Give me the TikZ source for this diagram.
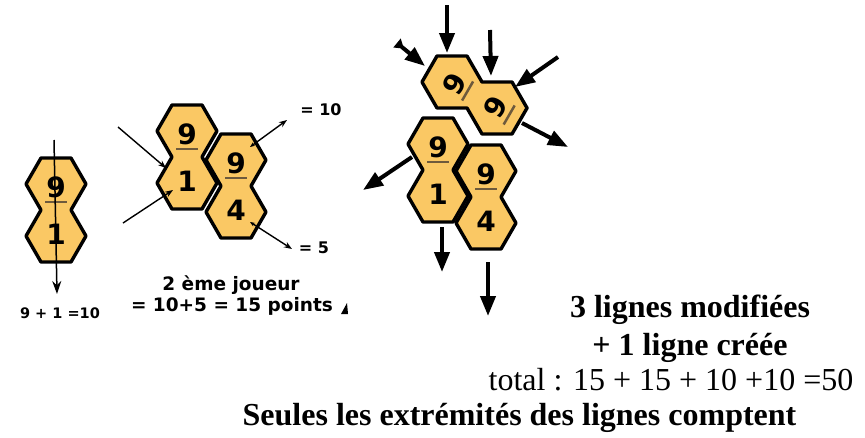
\documentclass[tikz,border=0pt]{standalone}
\usepackage{fontspec}
\setmainfont{Liberation Serif}
\newfontfamily\djs{DejaVu Sans}
\usetikzlibrary{arrows.meta}
\definecolor{hexfill}{RGB}{250,200,100}
\definecolor{barcol}{RGB}{110,90,60}
\tikzset{
 hexpath/.style={fill=hexfill, draw=black, line width=3.4pt, line join=round},
 numtxt/.style={font=\djs\bfseries\fontsize{28}{28}\selectfont, inner sep=0pt},
 fracbar/.style={draw=barcol, line width=2.5pt},
 thinarrow/.style={line width=1.4pt, -{Stealth[length=8pt,width=6pt]}},
 thinboth/.style={line width=1.4pt, {Stealth[length=5pt,width=4pt]}-{Stealth[length=8pt,width=6pt]}},
 longarrow/.style={line width=1.5pt, -{Stealth[length=13pt,width=9pt]}},
 thickarrow/.style={line width=4pt, -{Triangle[length=20pt,width=15pt]}},
 sanslabel/.style={font=\djs\bfseries\fontsize{18.5}{22}\selectfont, inner sep=0pt, anchor=base},
 smalllabel/.style={font=\djs\bfseries\fontsize{16}{20}\selectfont, inner sep=0pt, anchor=base},
 tinylabel/.style={font=\djs\bfseries\fontsize{14.5}{18}\selectfont, inner sep=0pt, anchor=base},
 seriflabel/.style={font=\bfseries\fontsize{32}{36}\selectfont, inner sep=0pt, anchor=base},
 serifplain/.style={font=\fontsize{32}{36}\selectfont, inner sep=0pt, anchor=base},
}
% #1 name, #2 x, #3 y, #4 rotation, #5 top text, #6 bottom text, #7 extra
\newcommand\hexdomino[7]{%
\begin{scope}[shift={(#2,#3)}, rotate=#4]
\path[hexpath] (15,-26) -- (-15,-26) -- (-30,0) -- (-15,26) -- (-30,52) -- (-15,78) -- (15,78) -- (30,52) -- (15,26) -- (30,0) -- cycle;
\node[numtxt, rotate=#4] (#1t) at (0,3) {#5};
\draw[fracbar] (-11,18) -- (11,18);
\node[numtxt, rotate=#4] (#1b) at (0,50) {#6};
#7
\end{scope}}
\begin{document}
\begin{tikzpicture}[x=1pt, y=-1pt]
\useasboundingbox (0,0) rectangle (865,437);

% ---- figure 1
\hexdomino{da}{56}{184}{0}{9}{1}{}
\coordinate (a1s) at (54,140);
\coordinate (a1e) at (57,294);
\draw[longarrow] (a1s) -- (a1e);
\node[tinylabel] (lab1) at (60,318) {9 + 1 =10};

% ---- figure 2
\hexdomino{db}{187}{131}{0}{9}{1}{}
\hexdomino{dc}{236}{160}{0}{9}{4}{}
\coordinate (b1s) at (118,127);
\coordinate (b1e) at (166,168);
\coordinate (b2s) at (123,223);
\coordinate (b2e) at (173,190);
\coordinate (b3s) at (250,147);
\coordinate (b3e) at (287,120);
\coordinate (b4s) at (250,222);
\coordinate (b4e) at (292,249);
\draw[thinarrow] (b1s) -- (b1e);
\draw[thinarrow] (b2s) -- (b2e);
\draw[thinboth] (b3s) -- (b3e);
\draw[thinboth] (b4s) -- (b4e);
\node[smalllabel] (lab10) at (321,115) {= 10};
\node[smalllabel] (lab5) at (314,253) {= 5};
\node[sanslabel] (labj) at (231,290) {2 ème joueur};
\node[sanslabel] (labp) at (232,311) {= 10+5 = 15 points};
\fill (341,314) -- (347,303) -- (348,314) -- cycle;

% ---- figure 3
\hexdomino{dd}{452}{82}{60}{9}{9}{\draw[fracbar] (-11,66) -- (11,66);}
\hexdomino{de}{438}{144}{0}{9}{1}{}
\hexdomino{df}{486}{171}{0}{9}{4}{}
\coordinate (c1s) at (447,5);   \coordinate (c1e) at (447,53);
\coordinate (c2s) at (397,43);  \coordinate (c2e) at (425,66);
\coordinate (c3s) at (490,30);  \coordinate (c3e) at (491,76);
\coordinate (c4s) at (558,57);  \coordinate (c4e) at (515,87);
\coordinate (c5s) at (522,123); \coordinate (c5e) at (568,147);
\coordinate (c6s) at (412,157); \coordinate (c6e) at (363,190);
\coordinate (c7s) at (442,227); \coordinate (c7e) at (442,272);
\coordinate (c8s) at (488,262); \coordinate (c8e) at (488,316);
\foreach \k in {1,3,4,5,6,7,8} {\draw[thickarrow] (c\k s) -- (c\k e);}
\draw[line width=4pt, {Triangle[length=9pt,width=11pt,reversed]}-{Triangle[length=20pt,width=15pt]}] (c2s) -- (c2e);

% ---- texts
\node[seriflabel] (t1) at (690,317) {3 lignes modifiées};
\node[seriflabel] (t2) at (690,355) {+ 1 ligne créée};
\node[serifplain] (t3) at (671,390) {total : 15 + 15 + 10 +10 =50};
\node[seriflabel] (t4) at (519.5,425) {Seules les extrémités des lignes comptent};
\end{tikzpicture}
\end{document}
